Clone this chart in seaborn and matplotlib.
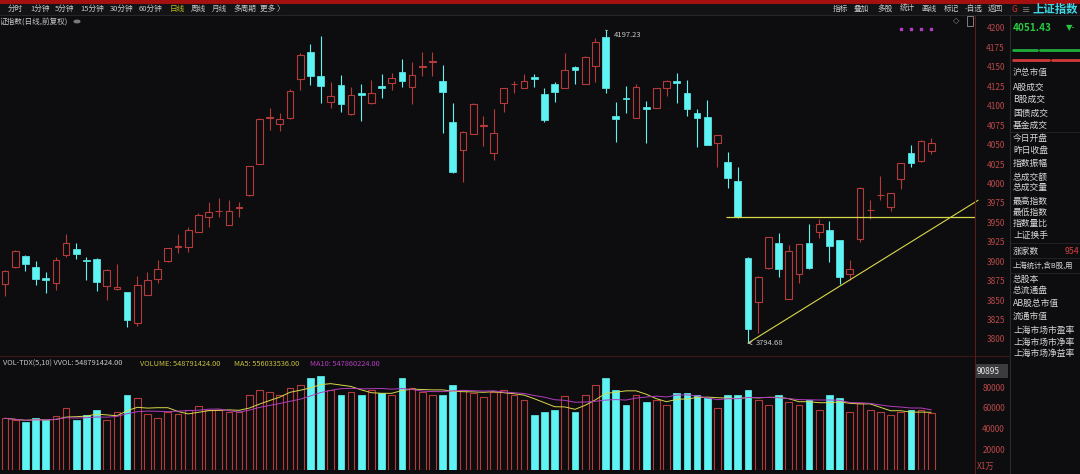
import numpy as np
import pandas as pd
import seaborn as sns
import matplotlib.pyplot as plt
from matplotlib.patches import Rectangle, Circle
from matplotlib.lines import Line2D

# daily OHLC of the index
opens = [3870.4, 3892.7, 3907.3, 3893.2, 3879.0, 3871.7, 3907.7, 3915.4, 3901.5, 3903.4,
         3868.7, 3864.4, 3860.6, 3821.2, 3856.3, 3877.7, 3900.0, 3918.3, 3918.9, 3937.3,
         3956.6, 3964.2, 3946.3, 3968.5, 3985.7, 4025.2, 4084.2, 4076.2, 4084.7, 4134.0,
         4168.7, 4138.3, 4105.3, 4126.7, 4089.0, 4116.0, 4103.2, 4125.0, 4128.9, 4143.9,
         4123.7, 4149.8, 4156.2, 4131.9, 4079.2, 4043.2, 4063.7, 4074.0, 4039.7, 4103.2,
         4127.5, 4123.3, 4136.6, 4115.2, 4128.0, 4123.3, 4150.3, 4128.0, 4151.2, 4188.0,
         4086.9, 4109.7, 4084.7, 4098.0, 4097.6, 4122.4, 4132.3, 4116.9, 4091.2, 4085.2,
         4052.6, 4028.2, 4003.3, 3904.7, 3848.2, 3891.0, 3924.0, 3851.2, 3883.3, 3923.2,
         3938.2, 3940.3, 3927.4, 3883.3, 3928.7, 3965.5, 3984.8, 3970.3, 4005.4, 4038.9,
         4029.4, 4042.3]
highs = [3888.9, 3914.6, 3908.2, 3900.9, 3885.9, 3906.0, 3934.7, 3923.2, 3905.2, 3904.0,
         3889.5, 3896.2, 3861.0, 3881.2, 3885.9, 3901.7, 3917.0, 3934.7, 3944.6, 3961.7,
         3976.7, 3981.9, 3978.4, 3976.7, 4023.0, 4084.0, 4096.7, 4091.2, 4121.2, 4167.4,
         4179.4, 4189.7, 4131.0, 4139.6, 4124.6, 4127.6, 4133.2, 4140.4, 4141.7, 4160.6,
         4156.7, 4168.7, 4168.7, 4152.4, 4103.2, 4067.0, 4103.2, 4086.9, 4095.4, 4123.0,
         4132.3, 4140.4, 4140.4, 4122.4, 4130.2, 4167.4, 4150.5, 4164.0, 4186.7, 4197.23,
         4105.3, 4125.4, 4128.0, 4106.6, 4123.0, 4133.2, 4141.7, 4133.2, 4095.4, 4107.4,
         4063.0, 4041.0, 4021.7, 3906.0, 3881.0, 3931.5, 3936.0, 3921.0, 3922.3, 3948.0,
         3954.0, 3951.9, 3927.8, 3901.7, 3996.0, 3978.9, 4009.7, 3988.0, 4026.5, 4049.6,
         4056.0, 4058.1]
lows = [3855.4, 3891.0, 3888.0, 3869.2, 3858.9, 3863.2, 3905.2, 3902.6, 3876.0, 3862.3,
        3850.3, 3863.5, 3816.0, 3816.9, 3856.0, 3871.7, 3899.6, 3910.3, 3912.4, 3937.0,
        3944.6, 3957.4, 3946.0, 3956.6, 3984.0, 4024.8, 4068.9, 4067.6, 4083.4, 4120.3,
        4126.3, 4103.2, 4096.7, 4092.4, 4088.2, 4080.4, 4102.3, 4109.6, 4120.3, 4124.6,
        4102.3, 4138.3, 4138.3, 4064.6, 4013.2, 4002.4, 4063.5, 4048.3, 4030.3, 4092.4,
        4116.9, 4122.4, 4124.6, 4079.6, 4105.3, 4123.0, 4127.6, 4127.8, 4131.0, 4116.0,
        4053.9, 4090.3, 4083.9, 4051.7, 4097.0, 4112.6, 4103.2, 4086.9, 4047.4, 4049.0,
        4021.7, 3993.9, 3956.0, 3794.68, 3807.4, 3890.5, 3880.3, 3851.0, 3871.7, 3890.6,
        3929.6, 3899.6, 3870.9, 3876.0, 3925.3, 3954.0, 3978.9, 3965.2, 3992.6, 4020.9,
        4028.2, 4037.6]
closes = [3888.0, 3913.3, 3897.0, 3877.7, 3876.4, 3901.7, 3923.2, 3909.4, 3900.5, 3873.0,
          3888.9, 3867.4, 3824.2, 3869.6, 3875.6, 3890.2, 3916.7, 3919.3, 3940.3, 3959.6,
          3963.0, 3965.2, 3964.7, 3969.5, 4022.6, 4083.4, 4085.2, 4082.6, 4119.4, 4165.3,
          4138.7, 4125.9, 4112.2, 4101.9, 4113.9, 4113.4, 4116.4, 4122.9, 4135.3, 4132.3,
          4139.2, 4150.8, 4157.2, 4117.3, 4015.3, 4066.7, 4101.9, 4075.0, 4064.6, 4122.4,
          4128.5, 4131.4, 4134.0, 4081.7, 4117.7, 4146.0, 4146.0, 4162.3, 4181.6, 4122.4,
          4082.6, 4108.7, 4123.7, 4096.3, 4122.4, 4132.3, 4128.9, 4095.4, 4084.7, 4049.6,
          4062.4, 4006.7, 3956.6, 3812.6, 3880.3, 3930.9, 3889.7, 3913.3, 3921.9, 3891.0,
          3947.6, 3919.7, 3879.4, 3889.7, 3993.9, 3966.5, 3985.8, 3987.4, 4026.0, 4026.9,
          4054.7, 4051.43]
# daily volume, unit 1万 (x1万)
volumes = [50000, 48100, 46200, 50000, 48100, 52000, 59700, 48100, 52900, 57800,
           48100, 55800, 72300, 69400, 53900, 50000, 55800, 53900, 57800, 61600,
           57800, 57800, 55800, 55800, 72300, 77100, 75200, 72300, 79100, 82000,
           88700, 90895, 77100, 72300, 75200, 72300, 77100, 74200, 72300, 88700,
           79100, 75200, 72300, 72300, 82000, 77100, 74200, 70300, 75200, 77100,
           72300, 67400, 52900, 55800, 57800, 71300, 55800, 72300, 82000, 89000,
           77100, 62600, 72300, 65500, 67400, 62600, 74200, 74200, 72300, 69400,
           59700, 72300, 72300, 77100, 67400, 62600, 72300, 65500, 62600, 67400,
           57800, 72300, 69400, 55800, 64500, 57800, 55800, 52900, 55800, 57800,
           57800, 54879.14]

price_ticks = list(range(3800, 4201, 25))
vol_ticks = [20000, 40000, 60000, 80000]
vol_max_label = "90895"
support_level = 3956.6     # horizontal yellow line
trend_anchor = 73          # candle of the 3794.68 low
trend_slope = 8.13         # points per day

tools_left = ["分时", "1分钟", "5分钟", "15分钟", "30分钟", "60分钟", "日线", "周线", "月线", "多周期", "更多 〉"]
tools_right = ["指标", "叠加", "多股", "统计", "画线", "标记", "-自选", "返回"]
panel_labels = ["沪总市值", "A股成交", "B股成交", "国债成交", "基金成交", "今日开盘", "昨日收盘",
                "指数振幅", "总成交额", "总成交量", "最高指数", "最低指数", "指数量比", "上证换手",
                "涨家数", "上海统计,含B股,用", "总股本", "总流通盘", "AB股总市值", "流通市值",
                "上海市场市盈率", "上海市场市净率", "上海市场净益率"]

df = pd.DataFrame({"open": opens, "high": highs, "low": lows, "close": closes, "volume": volumes})
df["idx"] = np.arange(len(df))
df["up"] = df["close"] >= df["open"]
df["ma5"] = df["volume"].rolling(5, min_periods=1).mean()
df["ma10"] = df["volume"].rolling(10, min_periods=1).mean()

W, H = 1080, 474
BG = "#0d0d0f"
RED = "#b53b3b"
CYAN = "#5ef4f4"
AXRED = "#b84848"
YEL = "#d8d84a"
MAG = "#b23cc0"
TXT = "#c8c8c8"

sns.set_theme(style="dark", rc={"axes.facecolor": BG, "figure.facecolor": BG})
plt.rcParams["font.family"] = ["Noto Sans CJK SC", "DejaVu Sans"]
plt.rcParams["axes.unicode_minus"] = False

fig = plt.figure(figsize=(W / 100, H / 100), dpi=100)


def fx(x):
    return x / W


def fy(y):
    return 1 - y / H


ax_p = fig.add_axes([0, fy(355), fx(975), (355 - 15) / H])
ax_v = fig.add_axes([0, fy(470), fx(975), (470 - 368) / H])

x_lim = (-0.49, 95.3)
body_w = 0.66
up = df[df.up]
dn = df[~df.up]

# --- candles ---
for part, col in ((up, RED), (dn, CYAN)):
    top = part[["open", "close"]].max(axis=1)
    bot = part[["open", "close"]].min(axis=1)
    ax_p.vlines(part.idx, top, part.high, color=col, lw=0.8)
    ax_p.vlines(part.idx, part.low, bot, color=col, lw=0.8)
ax_p.bar(up.idx, (up.close - up.open).clip(lower=0.4), bottom=up.open, width=body_w,
         facecolor=BG, edgecolor=RED, lw=0.8)
ax_p.bar(dn.idx, (dn.open - dn.close).clip(lower=0.4), bottom=dn.close, width=body_w,
         facecolor=CYAN, edgecolor=CYAN, lw=0.5)

# support + trend line
ax_p.hlines(support_level, 70.8, x_lim[1], color=YEL, lw=0.9)
t_x = np.array([trend_anchor, x_lim[1] + 0.3])
t_y = df.low[trend_anchor] + trend_slope * (t_x - trend_anchor)
ax_p.plot(t_x, t_y, color=YEL, lw=0.8, clip_on=False)

# hi / lo markers
hi_i = df.high.idxmax()
lo_i = df.low.idxmin()
ax_p.annotate(f"{df.high[hi_i]:.2f}", xy=(hi_i, df.high[hi_i]), xytext=(8, -5),
              textcoords="offset pixels", color=TXT, fontsize=5.5, va="center", ha="left",
              arrowprops=dict(arrowstyle="-", color=TXT, lw=0.6))
ax_p.annotate(f"{df.low[lo_i]:.2f}", xy=(lo_i, df.low[lo_i]), xytext=(8, 0),
              textcoords="offset pixels", color=TXT, fontsize=5.5, va="center", ha="left",
              arrowprops=dict(arrowstyle="->", color=TXT, lw=0.6))
ax_p.scatter(df.idx[-4:], [4199] * 4, s=2, color=MAG, marker="s")

ax_p.set_xlim(*x_lim)
ax_p.set_ylim(3779.4, 4216.7)
ax_p.set_xticks([])
ax_p.yaxis.tick_right()
ax_p.set_yticks(price_ticks)
ax_p.tick_params(axis="y", length=0, pad=21.6, labelsize=6, labelcolor=AXRED)
for lab in ax_p.get_yticklabels():
    lab.set_horizontalalignment("right")

# --- volume ---
ax_v.bar(up.idx, up.volume, width=body_w, facecolor=BG, edgecolor=RED, lw=0.8)
ax_v.bar(dn.idx, dn.volume, width=body_w, facecolor=CYAN, edgecolor=CYAN, lw=0.5)
sns.lineplot(data=df, x="idx", y="ma5", ax=ax_v, color=YEL, lw=0.7, legend=False)
sns.lineplot(data=df, x="idx", y="ma10", ax=ax_v, color=MAG, lw=0.7, legend=False)
ax_v.set_xlim(*x_lim)
ax_v.set_ylim(0, 98700)
ax_v.set_xticks([])
ax_v.set_xlabel("")
ax_v.set_ylabel("")
ax_v.yaxis.tick_right()
ax_v.set_yticks(vol_ticks)
ax_v.set_yticklabels([str(v) for v in vol_ticks])
ax_v.tick_params(axis="y", length=0, pad=21.6, labelsize=6, labelcolor=AXRED)
for lab in ax_v.get_yticklabels():
    lab.set_horizontalalignment("right")

for ax in (ax_p, ax_v):
    ax.grid(False)
    for s in ax.spines.values():
        s.set_visible(False)

# --- frame / chrome ---
fig.add_artist(Rectangle((0, fy(3.5)), 1, 3.5 / H, transform=fig.transFigure, color="#a3100f", lw=0))
fig.add_artist(Rectangle((0, fy(15)), 1, 11.5 / H, transform=fig.transFigure, color="#131315", lw=0))


def hline(y, x0, x1, col, lw=0.8):
    fig.add_artist(Line2D([fx(x0), fx(x1)], [fy(y), fy(y)], color=col, lw=lw))


def vline(x, y0, y1, col, lw=0.8):
    fig.add_artist(Line2D([fx(x), fx(x)], [fy(y0), fy(y1)], color=col, lw=lw))


hline(15, 0, W, "#262628")
hline(356, 0, 1010, "#3a1818")
vline(975, 15, H, "#5a1c1c")
vline(1010, 15, H, "#2a2a2c")
for y in (132, 243, 258, 273):
    hline(y, 1010, W, "#262628", 0.6)

# toolbar
tool_x = [8, 30, 55, 80, 110, 139, 170, 191, 212, 233, 260]
for t, x in zip(tools_left, tool_x):
    fig.text(fx(x), fy(9), t, fontsize=5.5, color="#b8c020" if t == "日线" else TXT, va="center")
tool_rx = [833, 854, 877, 900, 921, 944, 965, 988]
for t, x in zip(tools_right, tool_rx):
    fig.text(fx(x), fy(9), t, fontsize=5.5, color=TXT, va="center")
fig.text(fx(1012), fy(10), "G", fontsize=6, color="#e03030", va="center")
fig.text(fx(1022), fy(10), "≡", fontsize=6, color="#909090", va="center")
fig.text(fx(1033), fy(10), "上证指数", fontsize=8.2, color="#3fd8e8", va="center", weight="bold")

fig.text(fx(0), fy(22), "证指数(日线,前复权)", fontsize=5.5, color=TXT, va="center")
fig.add_artist(Circle((fx(77), fy(21.5)), 2.8 / W, transform=fig.transFigure, color="#7a7a7a"))
fig.text(fx(953), fy(21), "◇", fontsize=6, color="#909090", va="center", family="DejaVu Sans")
fig.add_artist(Rectangle((fx(967), fy(26)), 6 / W, 10 / H, transform=fig.transFigure,
                         facecolor="none", edgecolor="#909090", lw=0.6))

# right info panel
fig.text(fx(1013), fy(28), f"{df.close.iloc[-1]:.2f}", fontsize=7.2, color="#28c840", va="center", weight="bold")
fig.text(fx(1066), fy(28), "▼-", fontsize=6, color="#28c840", va="center", family="DejaVu Sans")
hline(50, 1013, 1037, "#1fae3c", 2)
hline(50, 1040, W, "#1fae3c", 2)
hline(60, 1013, 1049, "#d03a3a", 2)
hline(60, 1052, W, "#d03a3a", 2)
panel_y = [73, 87, 99, 113, 125, 138, 151, 163, 177, 187, 201, 212, 223, 235,
           251, 266, 279, 290, 303, 316, 330, 342, 353]
for t, y in zip(panel_labels, panel_y):
    fs = 5.3 if len(t) > 8 else 6.3
    fig.text(fx(1013), fy(y), t, fontsize=fs, color="#d8d8d8", va="center")
fig.text(fx(1065), fy(251), "954", fontsize=6.3, color="#d84040", va="center")

# volume header + axis extras
fig.text(fx(3), fy(364), "VOL-TDX(5,10) VVOL: 548791424.00", fontsize=5.3, color=TXT, va="center")
fig.text(fx(140), fy(364), "VOLUME: 548791424.00", fontsize=5.3, color="#c8c040", va="center")
fig.text(fx(234), fy(364), "MA5: 556033536.00", fontsize=5.3, color="#c8c040", va="center")
fig.text(fx(310), fy(364), "MA10: 547860224.00", fontsize=5.3, color=MAG, va="center")
fig.add_artist(Rectangle((fx(975), fy(378)), 33 / W, 14 / H, transform=fig.transFigure,
                         facecolor="#3c3c3e", lw=0))
fig.text(fx(977), fy(371), vol_max_label, fontsize=6, color="#e8e8e8", va="center")
fig.text(fx(977), fy(466), "X1万", fontsize=6, color=AXRED, va="center")

fig.savefig("out.png", dpi=100, facecolor=BG)
